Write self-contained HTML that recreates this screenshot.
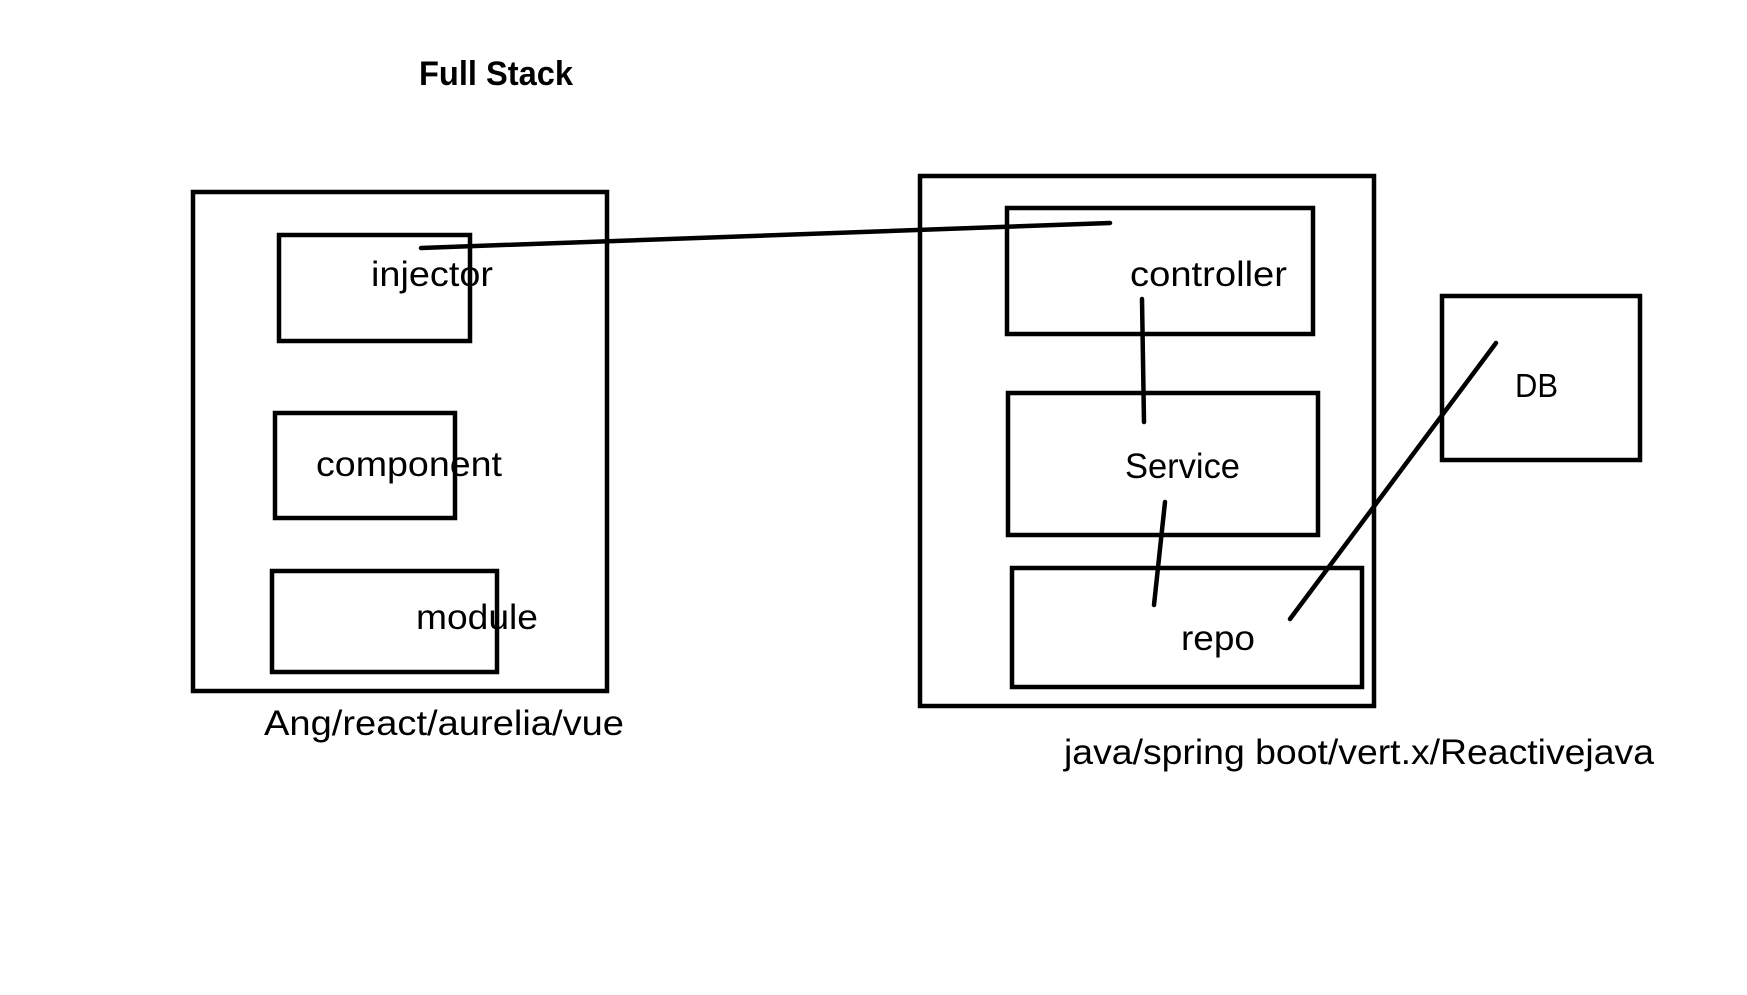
<!DOCTYPE html>
<html><head><meta charset="utf-8"><style>html,body{margin:0;padding:0;background:#fff;}svg{display:block}</style></head>
<body>
<svg width="1747" height="995" viewBox="0 0 1747 995" xmlns="http://www.w3.org/2000/svg" font-family="'Liberation Sans', sans-serif">
<rect width="1747" height="995" fill="#fff"/>
<g fill="none" stroke="#000" stroke-width="4.5">
<rect x="193" y="192" width="414" height="499"/>
<rect x="279" y="235" width="191" height="106"/>
<rect x="275" y="413" width="180" height="105"/>
<rect x="272" y="571" width="225" height="101"/>
<rect x="920" y="176" width="454" height="530"/>
<rect x="1007" y="208" width="306" height="126"/>
<rect x="1008" y="393" width="310" height="142"/>
<rect x="1012" y="568" width="350" height="119"/>
<rect x="1442" y="296" width="198" height="164"/>
</g>
<g stroke="#000" stroke-width="4.5" stroke-linecap="round">
<line x1="421" y1="248" x2="1110" y2="223"/>
<line x1="1142" y1="299" x2="1144" y2="422"/>
<line x1="1165" y1="502" x2="1154" y2="605"/>
<line x1="1496" y1="343" x2="1290" y2="619"/>
</g>
<g fill="#000" font-size="35">
<text x="419" y="85" font-weight="bold" font-size="34" textLength="154" lengthAdjust="spacingAndGlyphs">Full Stack</text>
<text x="371" y="286" textLength="122" lengthAdjust="spacingAndGlyphs">injector</text>
<text x="316" y="476" textLength="186" lengthAdjust="spacingAndGlyphs">component</text>
<text x="416" y="629" textLength="122" lengthAdjust="spacingAndGlyphs">module</text>
<text x="1130" y="286" textLength="157" lengthAdjust="spacingAndGlyphs">controller</text>
<text x="1125" y="478" textLength="115" lengthAdjust="spacingAndGlyphs">Service</text>
<text x="1181" y="650" textLength="74" lengthAdjust="spacingAndGlyphs">repo</text>
<text x="1515" y="397" font-size="33" textLength="43" lengthAdjust="spacingAndGlyphs">DB</text>
<text x="264" y="735" textLength="360" lengthAdjust="spacingAndGlyphs">Ang/react/aurelia/vue</text>
<text x="1064" y="764" textLength="590" lengthAdjust="spacingAndGlyphs">java/spring boot/vert.x/Reactivejava</text>
</g>
</svg>
</body></html>
